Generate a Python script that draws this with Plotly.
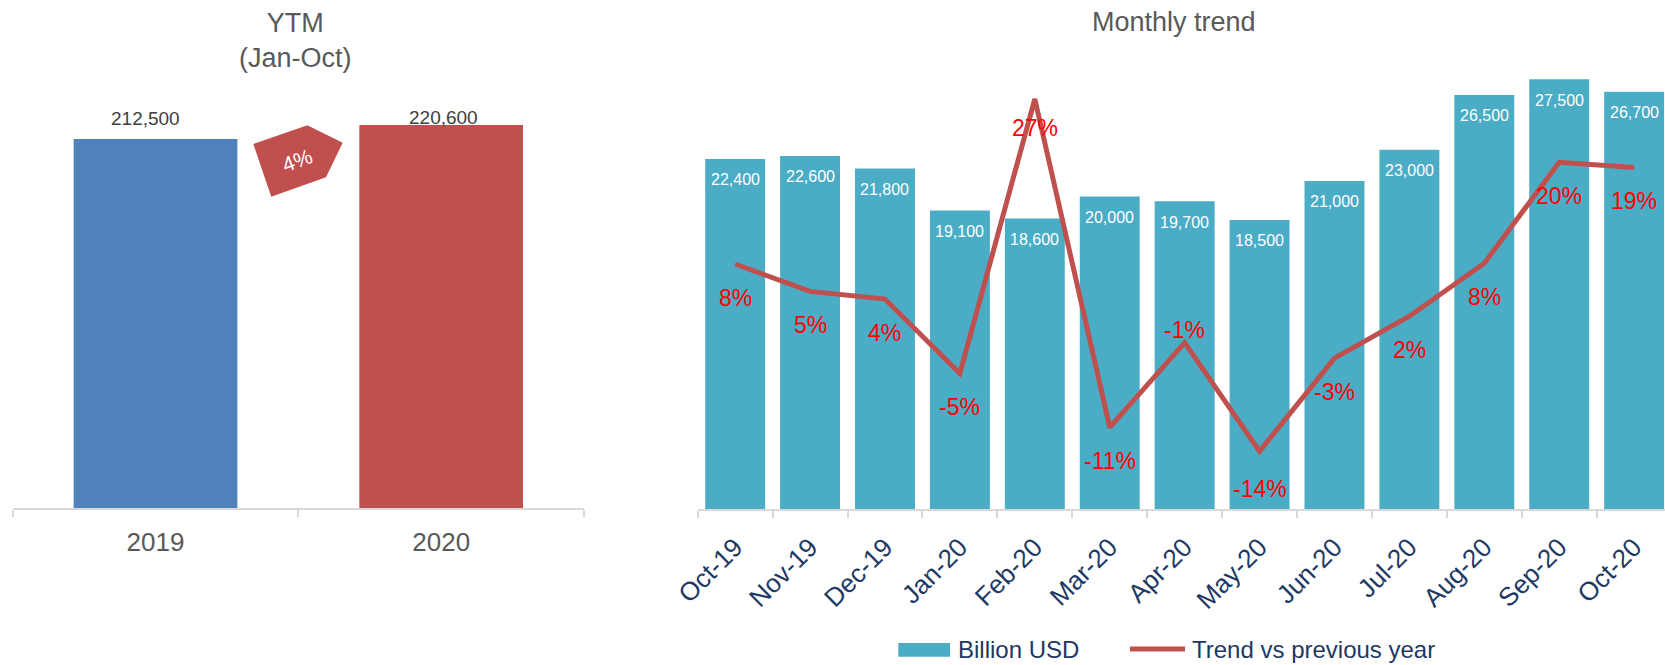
import plotly.graph_objects as go

# ---------------- data ----------------
years = ["2019", "2020"]
ytm_values = [212500, 220600]
ytm_colors = ["#4F81BD", "#C0504D"]

months = ["Oct-19", "Nov-19", "Dec-19", "Jan-20", "Feb-20", "Mar-20", "Apr-20",
          "May-20", "Jun-20", "Jul-20", "Aug-20", "Sep-20", "Oct-20"]
monthly_values = [22400, 22600, 21800, 19100, 18600, 20000, 19700,
                  18500, 21000, 23000, 26500, 27500, 26700]
trend_pct = [8.1, 4.9, 4.0, -4.7, 27.4, -11.0, -1.1,
             -13.8, -2.9, 2.0, 8.2, 20.0, 19.4]

bar_label = "Billion USD"
line_label = "Trend vs previous year"

# label placement style
LABEL_BELOW = 34                      # px below the line point (negative = above)
LABEL_OVERRIDE = {"Apr-20": -13, "Feb-20": 29, "May-20": 38}
YTM_LABEL_SHIFT = {"2019": (-10, 21), "2020": (2, 7)}   # (x, y) px offsets

# ---------------- layout helpers ----------------
W, H = 1665, 665
FONT = "Liberation Sans, Arial, sans-serif"
GRAY_TXT = "#595959"
NAVY = "#203864"
AXIS = "#D9D9D9"


def px(x):
    return x / W


def py(y):
    return 1 - y / H


fig = go.Figure()

# Left chart: YTM bars
fig.add_trace(go.Bar(
    x=years, y=ytm_values, marker=dict(color=ytm_colors, line=dict(width=0)),
    width=0.573, xaxis="x", yaxis="y", showlegend=False, hoverinfo="skip"))

# Right chart: monthly bars + trend line
fig.add_trace(go.Bar(
    x=months, y=monthly_values, marker=dict(color="#4BACC6", line=dict(width=0)),
    width=0.8, xaxis="x2", yaxis="y2", name=bar_label, showlegend=False))
fig.add_trace(go.Scatter(
    x=months, y=trend_pct, mode="lines",
    line=dict(color="#C0504D", width=5), xaxis="x2", yaxis="y3",
    name=line_label, showlegend=False))

annotations = []

# YTM value labels (x as category index)
for i, (yr, v) in enumerate(zip(years, ytm_values)):
    dx, dy = YTM_LABEL_SHIFT.get(yr, (0, 21))
    annotations.append(dict(x=i, y=v, xref="x", yref="y", text=f"{v:,}",
                            showarrow=False, xshift=dx, yshift=dy,
                            xanchor="center", yanchor="middle",
                            font=dict(size=19, color="#404040", family=FONT)))

# YTM growth badge
growth = (ytm_values[1] / ytm_values[0] - 1) * 100
pent = [(253.3, 144.0), (307.3, 125.3), (342.7, 142.7), (326.0, 177.3), (271.3, 196.7)]
path = "M " + " L ".join(f"{px(a):.5f},{py(b):.5f}" for a, b in pent) + " Z"
shapes = [dict(type="path", path=path, xref="paper", yref="paper",
               fillcolor="#C0504D", line=dict(width=0), layer="above")]
annotations.append(dict(x=px(296.7), y=py(160), xref="paper", yref="paper",
                        text=f"{growth:.0f}%", showarrow=False, textangle=-20,
                        xanchor="center", yanchor="middle",
                        font=dict(size=21, color="white", family=FONT)))

# Monthly value labels (inside bars, near top)
for i, v in enumerate(monthly_values):
    annotations.append(dict(x=i, y=v, xref="x2", yref="y2", text=f"{v:,}",
                            showarrow=False, yshift=-21, xanchor="center", yanchor="middle",
                            font=dict(size=16, color="white", family=FONT)))

# Trend labels
for i, (m, v) in enumerate(zip(months, trend_pct)):
    shift = LABEL_OVERRIDE.get(m, LABEL_BELOW)
    annotations.append(dict(x=i, y=v, xref="x2", yref="y3", text=f"{v:.0f}%",
                            showarrow=False, yshift=-shift, xanchor="center", yanchor="middle",
                            font=dict(size=23, color="#FF0000", family=FONT)))

# Titles
annotations.append(dict(x=px(295), y=py(40.5), xref="paper", yref="paper",
                        text="YTM<br>(Jan-Oct)", showarrow=False,
                        xanchor="center", yanchor="middle",
                        font=dict(size=27, color=GRAY_TXT, family=FONT)))
annotations.append(dict(x=px(1174), y=py(22), xref="paper", yref="paper",
                        text="Monthly trend", showarrow=False,
                        xanchor="center", yanchor="middle",
                        font=dict(size=27, color=GRAY_TXT, family=FONT)))

# Custom legend
shapes.append(dict(type="rect", xref="paper", yref="paper",
                   x0=px(898.3), x1=px(950), y0=py(656.7), y1=py(643),
                   fillcolor="#4BACC6", line=dict(width=0)))
annotations.append(dict(x=px(956), y=py(649), xref="paper", yref="paper",
                        text=bar_label, showarrow=False, xanchor="left", yanchor="middle",
                        font=dict(size=24, color=NAVY, family=FONT)))
shapes.append(dict(type="line", xref="paper", yref="paper",
                   x0=px(1130), x1=px(1185), y0=py(649), y1=py(649),
                   line=dict(color="#C0504D", width=5)))
annotations.append(dict(x=px(1190), y=py(649), xref="paper", yref="paper",
                        text=line_label, showarrow=False, xanchor="left", yanchor="middle",
                        font=dict(size=24, color=NAVY, family=FONT)))

axis_common = dict(type="category", showline=True, linecolor=AXIS, linewidth=1.5,
                   ticks="outside", tickson="boundaries", ticklen=7, tickcolor=AXIS,
                   tickwidth=1.5, showgrid=False, zeroline=False, fixedrange=True,
                   automargin=False)

fig.update_layout(
    template="none",
    width=W, height=H, autosize=False,
    margin=dict(l=0, r=0, t=0, b=0, pad=0, autoexpand=False),
    paper_bgcolor="white", plot_bgcolor="white",
    font=dict(family=FONT),
    showlegend=False,
    xaxis=dict(**axis_common, domain=[px(12.7), px(584)], range=[-0.5, 1.5],
               anchor="y", ticklabelstandoff=10,
               tickfont=dict(size=26, color=GRAY_TXT, family=FONT)),
    yaxis=dict(domain=[py(508.3), py(73.9)], range=[0, 250000], visible=False,
               anchor="x", fixedrange=True, automargin=False),
    xaxis2=dict(**axis_common, domain=[px(697.7), 1.0], range=[-0.5, 12.412],
                anchor="y2", tickangle=-45, ticklabelstandoff=11,
                tickfont=dict(size=26, color=NAVY, family=FONT)),
    yaxis2=dict(domain=[py(509), py(40.25)], range=[0, 30000], visible=False,
                anchor="x2", fixedrange=True, automargin=False),
    yaxis3=dict(overlaying="y2", range=[-20.55, 34.27], visible=False,
                anchor="x2", fixedrange=True, automargin=False),
    shapes=shapes,
    annotations=annotations,
)

fig.write_html("out.html", config={"displayModeBar": False},
               post_script="document.body.style.margin='0';document.body.style.overflow='hidden';")
